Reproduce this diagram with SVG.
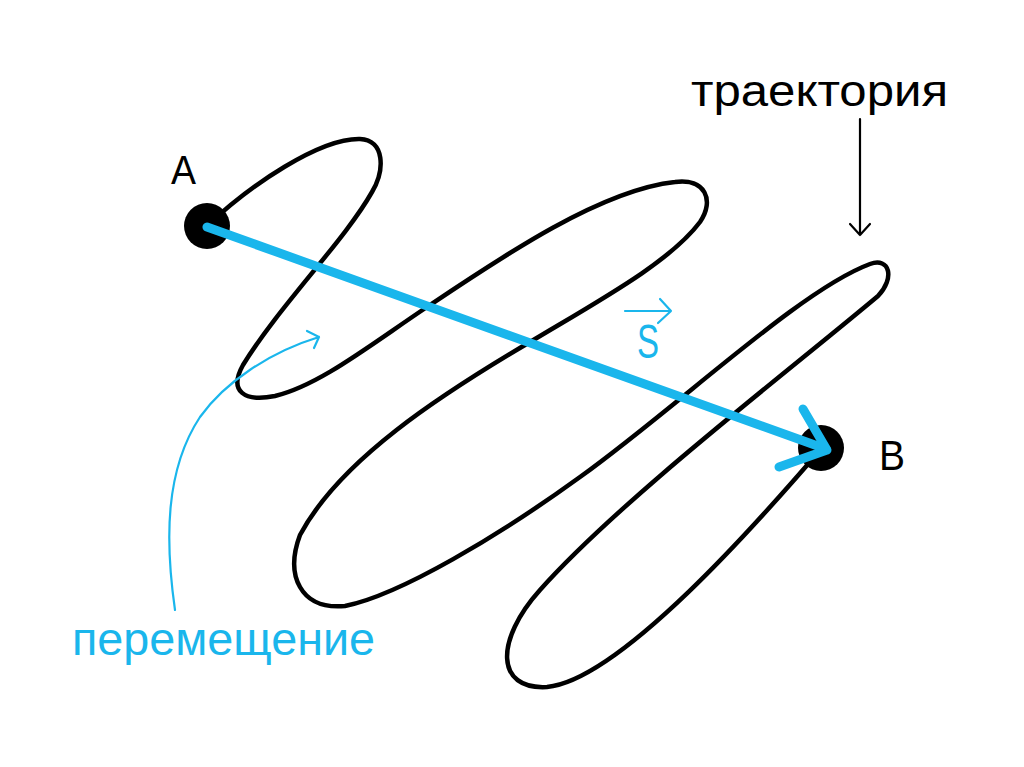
<svg xmlns="http://www.w3.org/2000/svg" width="1024" height="767" viewBox="0 0 1024 767">
<style>
.traj{fill:none;stroke:#000;stroke-width:4.5;stroke-linecap:round;stroke-linejoin:round}
.disp{fill:none;stroke:#1ab6ec;stroke-width:9;stroke-linecap:round;stroke-linejoin:round}
.thinb{fill:none;stroke:#1ab6ec;stroke-width:2.2;stroke-linecap:round;stroke-linejoin:round}
.think{fill:none;stroke:#000;stroke-width:2.2;stroke-linecap:round;stroke-linejoin:round}
.lbl{font-family:"Liberation Sans",Arial,sans-serif}
</style>
<rect width="1024" height="767" fill="#fff"/>
<g id="trajectory">
<path class="traj" d="M207,226 C250,185 320,138 360,139 C385,140 385,170 372,192 C345,240 280,305 243,365 C228,392 245,402 275,396 C320,385 370,345 427,307 C500,258 600,190 675,182 C705,178 715,200 700,222 C670,262 600,300 530,342 C440,395 340,460 300,535 C285,575 300,610 345,606 C400,595 500,535 580,477 C680,405 800,290 870,264 C890,257 895,278 878,296 C790,370 620,500 540,590 C495,640 495,690 547,687 C620,680 760,520 822,448"/>
</g>
<g id="pointA">
<circle cx="207" cy="226" r="23" fill="#000"/>
<text class="lbl" x="171" y="184" font-size="41" textLength="25" lengthAdjust="spacingAndGlyphs">A</text>
</g>
<g id="pointB">
<circle cx="821" cy="448" r="23" fill="#000"/>
<text class="lbl" x="879" y="470" font-size="43" textLength="26" lengthAdjust="spacingAndGlyphs">B</text>
</g>
<g id="connectors">
<path class="disp" d="M207,227 L826,449"/>
<path class="disp" d="M803,409 L827,450 L779,467"/>
<path class="think" d="M860,119 L860,235 M850,224 L860,235 L870,224"/>
<path class="thinb" d="M175,610 C165,540 165,470 200,417 C225,382 270,352 319,337 M307,331 L319,337 L314,348"/>
</g>
<g id="vectorS">
<path class="thinb" stroke-width="3" d="M625,311 L671,311 M660,299 L671,311 L658,323"/>
<text class="lbl" x="637" y="358" font-size="48" fill="#1ab6ec" textLength="22" lengthAdjust="spacingAndGlyphs">S</text>
</g>
<g id="label-trajectory">
<text class="lbl" x="691" y="106" font-size="44" fill="#000" textLength="257" lengthAdjust="spacingAndGlyphs">траектория</text>
</g>
<g id="label-displacement">
<text class="lbl" x="72" y="655" font-size="46" fill="#1ab6ec" textLength="303" lengthAdjust="spacingAndGlyphs">перемещение</text>
</g>
</svg>
